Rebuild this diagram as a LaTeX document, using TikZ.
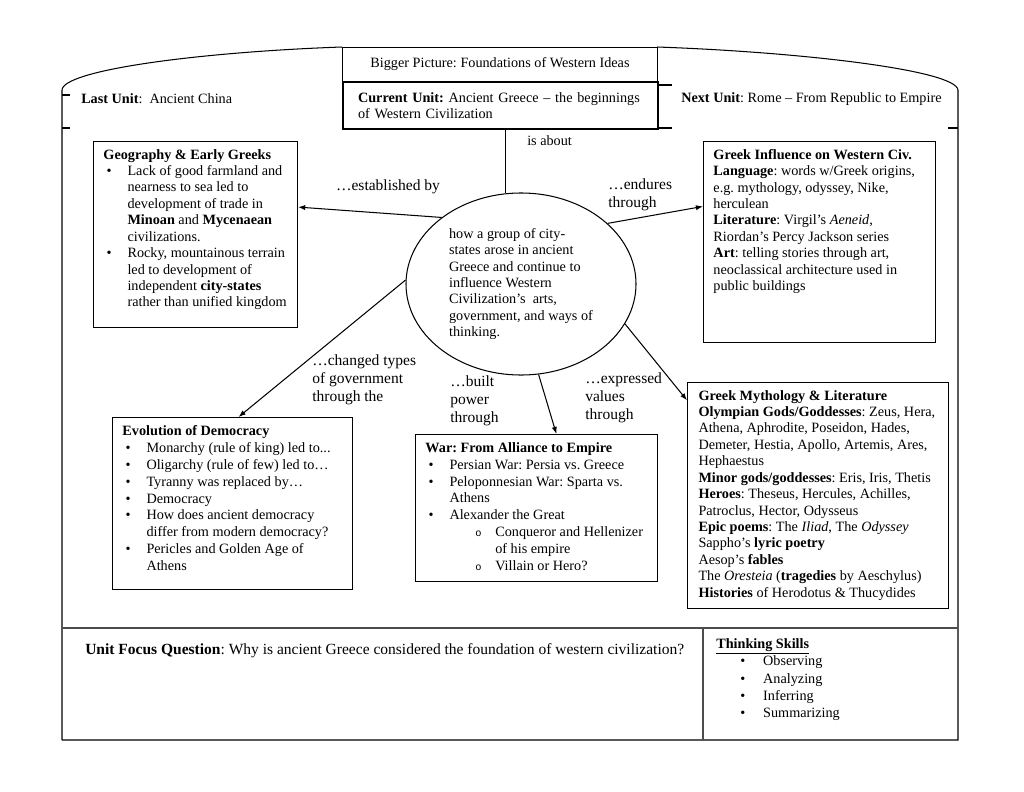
\documentclass[tikz,border=0pt]{standalone}
\usepackage{fontspec}
\setmainfont{Liberation Serif}
\setmonofont{Liberation Mono}
\usetikzlibrary{shapes.geometric, arrows.meta, positioning}

% list helpers for the boxes
\newcommand{\bitem}{\par\noindent\hangindent=18.6pt\hangafter=1\makebox[18.6pt][l]{\hspace{2.5pt}\textbullet}}
\newcommand{\sitem}{\par\noindent\hangindent=54pt\hangafter=1\makebox[54pt][l]{\hspace{38.5pt}{\ttfamily\footnotesize o}}}
\newcommand{\tsk}[1]{\makebox[36.3pt][l]{\hspace{18.6pt}\textbullet}#1}
\newcommand{\panel}[3]{\begin{minipage}[t][#2][t]{#1}\parskip=0pt\rightskip=0pt plus 1fil #3\end{minipage}}
\frenchspacing

\begin{document}
\frenchspacing
\begin{tikzpicture}[x=0.7734pt, y=-0.7734pt,
      box/.style={draw, line width=0.8pt, anchor=north west, inner xsep=7.7pt, inner ysep=6pt,
                  font=\fontsize{11}{12.7}\selectfont},
      txt/.style={inner sep=0pt, font=\fontsize{11}{12.7}\selectfont},
      lbl/.style={inner sep=0pt, align=left, anchor=west, font=\fontsize{12}{13.9}\selectfont},
      arr/.style={-{Latex[length=5.5pt,width=4pt]}, line width=0.8pt},
      frame/.style={line width=0.8pt},
      divider/.style={line width=1.2pt, black!70}
    ]
      \useasboundingbox (0,0) rectangle (1024,791);

      % outer frame with the rounded top
      \draw[frame] (62,740) -- (62,90) .. controls (63,70) and (200,52) .. (342,47);
      \draw[frame] (657,47) .. controls (800,52) and (956,70) .. (958,90) -- (958,740) -- (62,740);
      \draw[frame] (62,95) -- (70,95) (62,128) -- (70,128);
      \draw[frame] (657,85) -- (672,85) (657,128) -- (672,128);
      \draw[frame] (948,128) -- (958,128);
      \draw[divider] (62,628) -- (958,628);
      \draw[divider] (703,628) -- (703,740);

      % unit header
      \node[draw, line width=0.8pt, anchor=north west, minimum width=243.6pt, minimum height=26.3pt,
            inner sep=0pt, font=\fontsize{11}{12.7}\selectfont] (big) at (342,47)
            {Bigger Picture: Foundations of Western Ideas};
      \node[draw, line width=1.6pt, anchor=north west, minimum width=243.6pt, minimum height=36.4pt,
            text width=220.4pt, inner xsep=11.6pt, inner ysep=0pt, align=left,
            font=\fontsize{11}{12.7}\selectfont] (cur) at (342,81)
            {\textbf{Current Unit:} Ancient Greece -- the beginnings\\ of Western Civilization};
      \node[txt, anchor=west] (last) at (81,99) {\textbf{Last Unit}:\ \ Ancient China};
      \node[txt, anchor=west] (next) at (681,99) {\textbf{Next Unit}: Rome -- From Republic to Empire};
      \node[txt, anchor=west] (about) at (527,141) {is about};

      % central idea
      \node[ellipse, draw, line width=0.8pt, minimum width=177.9pt, minimum height=140.8pt,
            inner sep=0pt, align=left, font=\fontsize{11}{12.7}\selectfont] (ell) at (521,284)
            {how a group of city-\\ states arose in ancient\\ Greece and continue to\\ influence Western\\
             Civilization’s\ \ arts,\\ government, and ways of\\ thinking.};
      \draw[line width=0.8pt] (ell.100) -- (ell.100 |- cur.south);

      % topic boxes
      \node[box] (geo) at (93,141) {\panel{142.4pt}{131.9pt}{%
        \textbf{Geography \& Early Greeks}
        \bitem Lack of good farmland and\\ nearness to sea led to\\ development of trade in\\
               \textbf{Minoan} and \textbf{Mycenaean}\\ civilizations.
        \bitem Rocky, mountainous terrain\\ led to development of\\ independent \textbf{city-states}\\
               rather than unified kingdom}};
      \node[box] (infl) at (703,141) {\panel{164pt}{143.5pt}{%
        \textbf{Greek Influence on Western Civ.}\\
        \textbf{Language}: words w/Greek origins,\\ e.g. mythology, odyssey, Nike,\\ herculean\\
        \textbf{Literature}: Virgil’s \textit{Aeneid},\\ Riordan’s Percy Jackson series\\
        \textbf{Art}: telling stories through art,\\ neoclassical architecture used in\\ public buildings}};
      \node[box, font=\fontsize{11}{13.1}\selectfont] (demo) at (112,417) {\panel{170.2pt}{121pt}{%
        \textbf{Evolution of Democracy}
        \bitem Monarchy (rule of king) led to...
        \bitem Oligarchy (rule of few) led to…
        \bitem Tyranny was replaced by…
        \bitem Democracy
        \bitem How does ancient democracy\\ differ from modern democracy?
        \bitem Pericles and Golden Age of\\ Athens}};
      \node[box, font=\fontsize{11}{13.1}\selectfont] (war) at (415,434) {\panel{171.8pt}{101.7pt}{%
        \textbf{War: From Alliance to Empire}
        \bitem Persian War: Persia vs. Greece
        \bitem Peloponnesian War: Sparta vs.\\ Athens
        \bitem Alexander the Great
        \sitem Conqueror and Hellenizer\\ of his empire
        \sitem Villain or Hero?}};
      \node[box, inner xsep=8.5pt] (myth) at (687,382) {\panel{184.9pt}{162.8pt}{%
        \textbf{Greek Mythology \& Literature}\\
        \textbf{Olympian Gods/Goddesses}: Zeus, Hera,\\ Athena, Aphrodite, Poseidon, Hades,\\
        Demeter, Hestia, Apollo, Artemis, Ares,\\ Hephaestus\\
        \textbf{Minor gods/goddesses}: Eris, Iris, Thetis\\
        \textbf{Heroes}: Theseus, Hercules, Achilles,\\ Patroclus, Hector, Odysseus\\
        \textbf{Epic poems}: The \textit{Iliad}, The \textit{Odyssey}\\
        Sappho’s \textbf{lyric poetry}\\
        Aesop’s \textbf{fables}\\
        The \textit{Oresteia} (\textbf{tragedies} by Aeschylus)\\
        \textbf{Histories} of Herodotus \& Thucydides}};

      % links from the central idea
      \draw[arr] (ell.140) -- (geo.15);
      \draw[arr] (ell.35) -- (infl.163);
      \draw[arr] (ell.178) -- (demo.86);
      \draw[arr] (ell.-79) -- (war.75);
      \draw[arr] (ell.-21) -- (myth.144);
      \node[lbl, anchor=center] (lest) at (388,187) {…established by};
      \node[lbl] (lend) at (608,195) {…endures\\through};
      \node[lbl] (lchg) at (312,380) {…changed types\\of government\\through the};
      \node[lbl] (lblt) at (450,401) {…built\\power\\through};
      \node[lbl] (lexp) at (585,398) {…expressed\\values\\through};

      % bottom row
      \node[txt, anchor=west, font=\fontsize{12}{13.9}\selectfont] (focus) at (85,651)
            {\textbf{Unit Focus Question}: Why is ancient Greece considered the foundation of western civilization?};
      \node[txt, anchor=north west, align=left, font=\fontsize{11}{13.5}\selectfont] (skills) at (716,638)
            {\underline{\textbf{Thinking Skills}}\\ \tsk{Observing}\\ \tsk{Analyzing}\\ \tsk{Inferring}\\ \tsk{Summarizing}};
    \end{tikzpicture}
\end{document}
